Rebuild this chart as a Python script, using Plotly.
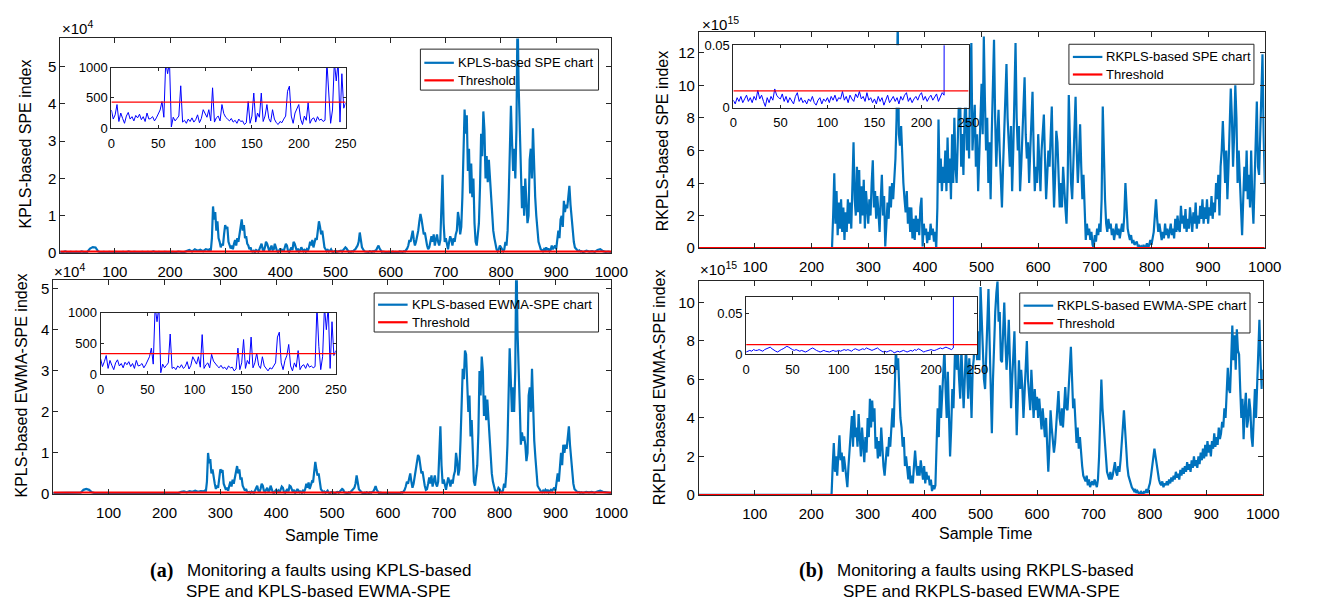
import plotly.graph_objects as go

# The page keeps its default 8px body margin, so the figure is placed 8px
# right/down; positions below are given in reference-picture pixels.
REF_W, REF_H = 1321, 610
PAGE_MARGIN = 8
W, H = REF_W, REF_H

# ---------------- data ----------------
kpls_time = list(range(0, 270, 5)) + list(range(270, 950, 2)) + list(range(950, 1001, 5))
rkpls_time = list(range(0, 236, 5)) + list(range(236, 1001, 2))

# KPLS-based SPE (x 10^4)
kpls_spe = [
    0.03, 0.02, 0.04, 0.02, 0.03, 0.02, 0.03, 0.02, 0.04, 0.02,
    0.03, 0.12, 0.16, 0.15, 0.04, 0.02, 0.03, 0.02, 0.03, 0.02,
    0.03, 0.02, 0.02, 0.03, 0.02, 0.04, 0.02, 0.03, 0.02, 0.02,
    0.03, 0.02, 0.03, 0.02, 0.04, 0.02, 0.03, 0.02, 0.03, 0.02,
    0.02, 0.03, 0.02, 0.04, 0.03, 0.02, 0.05, 0.08, 0.04, 0.10,
    0.06, 0.09, 0.05, 0.10,
    # 270 .. 948 every 2
    0.08, 0.1, 0.06, 0.4, 1.25, 0.9, 1.1, 0.6, 0.85, 0.4, 0.3, 0.15, 0.25, 0.2, 0.5, 0.75, 0.65, 0.7, 0.3, 0.2, 0.12, 0.2, 0.1, 0.25, 0.35,
    0.2, 0.4, 0.3, 0.5, 0.7, 0.9, 0.6, 0.75, 0.4, 0.45, 0.25, 0.2, 0.1, 0.15, 0.05, 0.04, 0.06, 0.03, 0.08, 0.05, 0.04, 0.1, 0.2, 0.25, 0.1,
    0.05, 0.15, 0.3, 0.25, 0.1, 0.05, 0.12, 0.2, 0.08, 0.1, 0.25, 0.15, 0.05, 0.03, 0.08, 0.12, 0.05, 0.1, 0.04, 0.15, 0.25, 0.2, 0.05, 0.03, 0.1,
    0.15, 0.08, 0.3, 0.25, 0.1, 0.05, 0.12, 0.04, 0.06, 0.15, 0.1, 0.05, 0.08, 0.04, 0.1, 0.06, 0.15, 0.3, 0.2, 0.35, 0.15, 0.25, 0.4, 0.35, 0.6,
    0.85, 0.7, 0.5, 0.6, 0.3, 0.15, 0.1, 0.05, 0.08, 0.04, 0.06, 0.1, 0.04, 0.03, 0.05, 0.06, 0.03, 0.04, 0.03, 0.05, 0.06, 0.04, 0.08, 0.1, 0.15,
    0.12, 0.05, 0.03, 0.04, 0.03, 0.05, 0.04, 0.08, 0.1, 0.15, 0.2, 0.3, 0.55, 0.35, 0.15, 0.1, 0.05, 0.04, 0.03, 0.04, 0.03, 0.05, 0.04, 0.03, 0.05,
    0.04, 0.06, 0.08, 0.15, 0.2, 0.12, 0.05, 0.03, 0.04, 0.03, 0.02, 0.03, 0.02, 0.03, 0.02, 0.03, 0.02, 0.04, 0.02, 0.03, 0.02, 0.03, 0.02, 0.04, 0.03,
    0.02, 0.03, 0.05, 0.04, 0.08, 0.12, 0.2, 0.35, 0.3, 0.5, 0.6, 0.35, 0.2, 0.3, 0.45, 0.6, 0.85, 1.05, 0.9, 0.6, 0.5, 0.55, 0.35, 0.2, 0.1,
    0.15, 0.3, 0.45, 0.3, 0.5, 0.2, 0.35, 0.5, 0.3, 0.2, 0.35, 1.2, 2.1, 0.8, 0.3, 0.4, 0.2, 0.1, 0.3, 0.45, 0.35, 0.2, 0.4, 0.3, 0.5,
    0.6, 1.1, 0.9, 0.5, 0.7, 1.5, 2.5, 3.85, 3.2, 3.7, 2.2, 2.8, 1.6, 2.4, 1.5, 2.0, 0.8, 0.3, 0.2, 0.5, 0.8, 1.8, 3.2, 2.6, 3.8,
    3.3, 2.0, 2.6, 1.9, 2.5, 2.0, 1.4, 1.0, 0.6, 0.4, 0.2, 0.1, 0.05, 0.1, 0.2, 0.15, 0.08, 0.05, 0.1, 0.3, 0.2, 0.6, 1.5, 2.5, 3.95,
    3.0, 2.2, 2.8, 2.0, 3.3, 6.5, 4.5, 3.5, 2.5, 1.2, 1.8, 1.0, 2.0, 1.3, 0.8, 1.0, 2.5, 2.8, 2.0, 3.35, 2.2, 1.5, 1.0, 0.5, 0.3,
    0.2, 0.1, 0.08, 0.05, 0.1, 0.05, 0.15, 0.08, 0.12, 0.05, 0.08, 0.2, 0.1, 0.15, 0.2, 0.1, 0.4, 0.6, 0.4, 0.9, 1.0, 0.7, 1.4, 1.1, 1.3,
    1.2, 1.5, 1.8, 1.3, 0.9, 0.6, 0.3, 0.15, 0.1, 0.08, 0.05, 0.07, 0.04, 0.05, 0.03,
    # 950 .. 1000 every 5
    0.03, 0.06, 0.04, 0.05, 0.03, 0.08, 0.10, 0.05, 0.03, 0.04, 0.02,
]

# KPLS-based EWMA-SPE (x 10^4)
kpls_ewma = [
    0.02, 0.02, 0.03, 0.02, 0.02, 0.03, 0.02, 0.02, 0.03, 0.02,
    0.03, 0.10, 0.12, 0.10, 0.04, 0.02, 0.02, 0.03, 0.02, 0.02,
    0.02, 0.03, 0.02, 0.02, 0.03, 0.02, 0.02, 0.03, 0.02, 0.02,
    0.02, 0.03, 0.02, 0.02, 0.03, 0.02, 0.02, 0.03, 0.02, 0.02,
    0.02, 0.02, 0.03, 0.02, 0.03, 0.02, 0.05, 0.06, 0.04, 0.07,
    0.05, 0.08, 0.05, 0.07,
    # 270 .. 948 every 2
    0.06, 0.08, 0.05, 0.3, 1.0, 0.75, 0.85, 0.5, 0.6, 0.35, 0.25, 0.12, 0.2, 0.15, 0.4, 0.6, 0.55, 0.58, 0.25, 0.15, 0.1, 0.15, 0.08, 0.2, 0.3,
    0.18, 0.35, 0.25, 0.4, 0.55, 0.68, 0.5, 0.6, 0.35, 0.4, 0.2, 0.15, 0.08, 0.12, 0.05, 0.04, 0.05, 0.03, 0.06, 0.04, 0.03, 0.08, 0.15, 0.2, 0.08,
    0.04, 0.12, 0.25, 0.2, 0.08, 0.05, 0.1, 0.15, 0.06, 0.08, 0.2, 0.12, 0.04, 0.03, 0.06, 0.1, 0.04, 0.08, 0.03, 0.12, 0.18, 0.15, 0.04, 0.03, 0.08,
    0.12, 0.06, 0.2, 0.18, 0.08, 0.04, 0.1, 0.03, 0.05, 0.12, 0.08, 0.04, 0.06, 0.03, 0.08, 0.05, 0.12, 0.25, 0.15, 0.28, 0.12, 0.2, 0.3, 0.28, 0.5,
    0.78, 0.6, 0.45, 0.5, 0.25, 0.12, 0.08, 0.04, 0.06, 0.03, 0.05, 0.08, 0.03, 0.02, 0.04, 0.05, 0.03, 0.03, 0.02, 0.04, 0.05, 0.03, 0.06, 0.08, 0.12,
    0.1, 0.04, 0.03, 0.03, 0.02, 0.04, 0.03, 0.06, 0.08, 0.12, 0.15, 0.25, 0.45, 0.3, 0.12, 0.08, 0.04, 0.03, 0.02, 0.03, 0.02, 0.04, 0.03, 0.02, 0.04,
    0.03, 0.05, 0.06, 0.12, 0.19, 0.1, 0.04, 0.02, 0.03, 0.02, 0.02, 0.02, 0.02, 0.02, 0.02, 0.02, 0.02, 0.03, 0.02, 0.02, 0.02, 0.02, 0.02, 0.03, 0.02,
    0.02, 0.02, 0.04, 0.03, 0.06, 0.1, 0.18, 0.3, 0.25, 0.42, 0.5, 0.3, 0.15, 0.25, 0.45, 0.65, 0.85, 0.95, 0.9, 0.6, 0.5, 0.55, 0.35, 0.2, 0.1,
    0.12, 0.25, 0.4, 0.25, 0.45, 0.18, 0.3, 0.45, 0.25, 0.18, 0.3, 0.9, 1.65, 0.7, 0.25, 0.35, 0.18, 0.1, 0.25, 0.4, 0.3, 0.18, 0.35, 0.25, 0.45,
    0.55, 1.0, 0.8, 0.45, 0.6, 1.3, 2.2, 3.05, 2.8, 3.5, 3.4, 2.5, 2.0, 2.4, 1.4, 1.8, 0.7, 0.3, 0.2, 0.4, 0.7, 1.5, 3.0, 2.4, 3.35,
    3.0, 1.9, 2.4, 1.8, 2.3, 1.8, 1.2, 0.8, 0.5, 0.3, 0.15, 0.08, 0.05, 0.08, 0.15, 0.12, 0.06, 0.04, 0.08, 0.25, 0.15, 0.5, 1.2, 2.3, 3.55,
    2.8, 2.0, 2.6, 2.0, 3.0, 6.0, 4.0, 2.7, 2.2, 1.2, 1.5, 1.3, 1.4, 1.2, 0.8, 1.0, 2.4, 2.6, 2.0, 3.05, 2.0, 1.3, 0.9, 0.4, 0.2,
    0.15, 0.08, 0.06, 0.04, 0.08, 0.05, 0.1, 0.06, 0.1, 0.04, 0.06, 0.1, 0.08, 0.12, 0.15, 0.08, 0.35, 0.5, 0.3, 0.8, 1.0, 0.7, 1.2, 1.0, 1.2,
    1.1, 1.35, 1.65, 1.2, 0.8, 0.5, 0.25, 0.12, 0.08, 0.06, 0.04, 0.05, 0.03, 0.04, 0.03,
    # 950 .. 1000 every 5
    0.03, 0.05, 0.04, 0.05, 0.03, 0.06, 0.08, 0.05, 0.04, 0.03, 0.02,
]

# RKPLS-based SPE (x 10^15)
rkpls_spe = [
    0, 0, 0, 0, 0, 0, 0, 0, 0, 0, 0, 0, 0, 0, 0, 0, 0, 0, 0, 0, 0, 0, 0, 0,
    0, 0, 0, 0, 0, 0, 0, 0, 0, 0, 0, 0, 0, 0, 0, 0, 0, 0, 0, 0, 0, 0, 0, 0,
    # 236 .. 1000 every 2
    0, 2.0, 4.6, 1.5, 3.5, 0.8, 2.8, 1.2, 3.0, 1.0, 2.5, 0.5, 2.2, 1.0, 3.0, 1.5, 2.8, 1.2, 4.5, 6.5, 3.0, 2.0, 5.0, 2.2, 4.8,
    1.5, 3.8, 2.0, 4.2, 1.2, 3.5, 2.5, 1.5, 3.0, 2.0, 4.0, 5.4, 2.5, 3.5, 1.8, 3.2, 2.2, 1.0, 3.0, 4.5, 2.0, 3.2, 0.1, 1.5, 2.8,
    1.8, 3.8, 2.5, 4.0, 3.0, 4.0, 5.5, 8.0, 14.0, 7.0, 6.3, 7.5, 5.0, 4.0, 3.0, 2.2, 3.5, 1.5, 2.5, 1.0, 2.5, 0.6, 1.8, 0.5, 2.0,
    1.0, 1.8, 0.8, 2.5, 3.1, 0.1, 1.5, 0.8, 1.2, 0.3, 1.0, 0.5, 1.5, 0.8, 1.2, 0.4, 1.0, 0.0, 2.5, 7.9, 4.0, 5.5, 3.5, 5.0, 4.0,
    6.0, 3.5, 6.8, 4.0, 5.5, 3.0, 7.0, 4.0, 8.0, 5.0, 4.0, 7.0, 9.0, 10.0, 5.0, 7.0, 4.5, 8.0, 9.6, 6.0, 8.0, 5.5, 11.0, 12.6, 6.0,
    7.5, 8.8, 5.0, 7.0, 3.5, 6.0, 9.0, 10.1, 7.0, 13.0, 9.0, 6.0, 8.0, 4.0, 6.5, 3.0, 7.0, 10.0, 12.8, 8.0, 5.0, 7.0, 8.5, 6.0, 4.0,
    2.5, 5.0, 7.0, 9.0, 11.3, 8.0, 6.0, 5.0, 7.5, 3.5, 6.0, 9.0, 12.6, 8.0, 6.0, 7.5, 3.5, 5.0, 7.0, 9.0, 10.5, 7.0, 5.5, 6.5, 4.0,
    6.0, 8.0, 9.6, 6.0, 3.5, 5.0, 4.0, 7.0, 5.0, 3.5, 6.0, 7.0, 8.2, 5.5, 3.0, 4.5, 6.0, 5.0, 7.0, 8.7, 5.0, 2.5, 4.5, 7.2, 6.5,
    4.0, 2.5, 4.0, 2.5, 5.0, 3.5, 2.5, 1.5, 4.0, 9.4, 6.0, 4.0, 3.0, 5.6, 7.0, 9.3, 6.0, 4.0, 5.5, 7.6, 5.0, 3.0, 4.5, 2.5, 0.5,
    1.5, 0.8, 1.2, 0.5, 1.0, 0.2, 0.0, 0.8, 0.4, 1.2, 0.8, 1.5, 1.0, 3.0, 8.7, 5.0, 3.0, 1.5, 1.0, 1.8, 1.2, 1.5, 0.8, 1.2, 0.5,
    1.0, 1.5, 0.8, 1.2, 0.6, 1.0, 1.5, 1.0, 2.0, 4.0, 2.0, 1.2, 0.8, 0.5, 0.8, 0.3, 0.5, 0.2, 0.3, 0.4, 0.1, 0.2, 0.0, 0.1, 0.0,
    0.2, 0.0, 0.1, 0.3, 0.0, 0.2, 0.5, 0.2, 0.6, 1.0, 2.0, 3.0, 1.8, 1.0, 1.5, 0.8, 0.5, 1.0, 0.6, 1.5, 0.8, 1.2, 0.6, 1.0, 1.5,
    0.8, 1.2, 0.6, 1.8, 1.0, 2.0, 1.2, 1.0, 2.6, 1.5, 2.0, 1.2, 2.4, 1.0, 1.8, 1.2, 2.5, 1.5, 1.0, 2.2, 1.5, 2.8, 1.2, 2.0, 1.5,
    2.6, 1.8, 3.0, 1.5, 2.5, 1.8, 3.0, 1.5, 2.5, 2.0, 3.2, 1.8, 2.8, 2.2, 4.0, 3.0, 4.5, 2.0, 5.0, 6.0, 7.8, 5.0, 4.0, 6.0, 3.0,
    5.0, 7.0, 9.8, 8.0, 5.0, 7.0, 10.0, 8.0, 4.0, 6.0, 4.0, 2.0, 0.8, 3.0, 5.0, 3.5, 6.0, 3.0, 4.5, 2.5, 6.0, 3.0, 1.5, 4.0, 6.5,
    9.0, 5.0, 4.5, 7.0, 9.0, 11.9, 7.0, 4.0,
]

# RKPLS-based EWMA-SPE (x 10^15)
rkpls_ewma = [
    0, 0, 0, 0, 0, 0, 0, 0, 0, 0, 0, 0, 0, 0, 0, 0, 0, 0, 0, 0, 0, 0, 0, 0,
    0, 0, 0, 0, 0, 0, 0, 0, 0, 0, 0, 0, 0, 0, 0, 0, 0, 0, 0, 0, 0, 0, 0, 0,
    # 236 .. 1000 every 2
    0, 1.5, 2.7, 1.2, 2.0, 1.0, 2.5, 3.1, 1.8, 2.2, 1.2, 2.0, 1.5, 1.0, 0.4, 1.5, 2.5, 3.5, 4.1, 2.5, 4.4, 3.0, 3.5, 2.5, 4.2,
    3.0, 2.0, 3.5, 2.5, 1.7, 3.0, 2.2, 4.0, 3.0, 5.0, 3.5, 4.9, 3.8, 4.5, 2.4, 3.0, 1.9, 2.8, 2.0, 3.5, 2.2, 1.5, 1.0, 1.8, 2.5,
    2.0, 3.0, 2.5, 3.5, 4.5, 3.5, 5.5, 7.6, 6.5, 7.1, 5.5, 4.0, 3.5, 2.5, 3.0, 1.5, 2.0, 1.2, 0.8, 1.5, 0.6, 1.0, 0.6, 1.5, 2.3,
    1.5, 1.0, 1.5, 1.0, 1.8, 1.2, 0.8, 1.5, 0.6, 1.2, 0.8, 1.0, 0.5, 0.8, 0.2, 0.5, 0.3, 0.5, 2.5, 4.5, 3.0, 5.7, 4.0, 5.0, 6.0,
    7.6, 5.5, 4.0, 6.4, 4.0, 2.0, 3.5, 5.5, 4.5, 7.0, 8.9, 6.5, 7.3, 6.0, 5.0, 7.6, 6.0, 4.5, 6.0, 7.6, 6.6, 5.0, 7.1, 6.0, 4.0,
    6.5, 7.1, 9.5, 8.0, 7.0, 8.5, 7.0, 10.8, 9.0, 8.0, 6.0, 5.5, 7.5, 9.0, 10.7, 8.0, 5.0, 3.2, 6.0, 8.4, 9.5, 10.5, 11.1, 9.0, 9.5,
    7.0, 6.9, 8.5, 10.0, 8.0, 6.5, 7.5, 9.1, 7.0, 4.5, 6.0, 7.5, 8.5, 6.0, 3.1, 5.0, 7.0, 5.5, 6.5, 5.6, 4.0, 5.3, 6.5, 8.0, 6.0,
    5.0, 4.4, 6.5, 5.0, 4.0, 5.5, 4.4, 5.1, 4.0, 5.0, 4.1, 3.4, 4.5, 3.5, 3.0, 4.0, 2.5, 1.2, 2.5, 4.4, 3.5, 3.0, 2.2, 2.7, 3.5,
    4.5, 5.4, 4.0, 3.6, 4.5, 3.5, 4.5, 5.6, 4.5, 4.4, 5.5, 6.5, 7.7, 6.1, 4.5, 5.0, 3.5, 2.7, 3.5, 2.4, 3.0, 2.0, 1.5, 1.0, 0.8,
    0.7, 1.0, 0.5, 0.8, 0.4, 0.6, 0.7, 0.5, 0.8, 0.6, 0.4, 0.8, 2.0, 4.0, 6.0, 4.5, 3.6, 2.5, 1.7, 1.2, 1.0, 0.8, 1.2, 0.8, 1.0,
    1.5, 1.7, 1.2, 1.0, 1.5, 1.2, 1.8, 2.5, 3.5, 4.4, 3.5, 2.1, 1.5, 1.0, 0.8, 0.5, 0.4, 0.3, 0.2, 0.3, 0.1, 0.2, 0.1, 0.0, 0.2,
    0.1, 0.0, 0.2, 0.1, 0.3, 0.1, 0.4, 0.6, 1.0, 1.5, 2.1, 2.4, 2.0, 1.5, 1.2, 0.8, 0.6, 0.5, 0.7, 0.4, 0.6, 0.5, 0.7, 0.5, 0.8,
    0.6, 0.9, 0.7, 1.0, 0.8, 1.2, 0.9, 1.1, 0.8, 1.3, 1.0, 1.4, 1.1, 1.5, 1.2, 1.7, 1.3, 1.6, 1.2, 1.8, 1.4, 2.0, 1.5, 1.8, 1.4,
    2.0, 1.6, 2.2, 1.8, 2.4, 1.9, 2.6, 2.0, 2.8, 2.2, 2.6, 2.0, 2.8, 2.4, 3.2, 2.5, 3.0, 2.6, 3.5, 2.9, 3.2, 3.8, 3.5, 4.5, 4.0,
    5.0, 6.6, 5.5, 5.3, 7.0, 8.8, 7.0, 8.3, 6.5, 8.6, 7.5, 7.3, 5.5, 4.0, 5.0, 2.9, 4.5, 5.3, 3.5, 3.9, 5.0, 4.4, 3.0, 2.5, 4.0,
    5.5, 4.0, 6.0, 7.5, 9.1, 7.0, 5.5, 6.5,
]

# zoomed insets (first 250 samples)
inset_time_kpls = list(range(0, 251, 2))
kpls_spe_inset = [
    300, 150, 220, 390, 110, 250, 160, 80, 200, 260, 150, 190, 120, 210, 170, 230, 140, 190, 110, 250, 150, 160, 190, 120, 170,
    250, 300, 440, 180, 1100, 900, 1100, 20, 180, 120, 160, 200, 700, 100, 130, 80, 150, 110, 170, 100, 140, 220, 90, 160, 305,
    250, 180, 305, 120, 667, 100, 170, 200, 120, 390, 240, 180, 150, 120, 160, 100, 130, 80, 150, 110, 120, 60, 90, 440, 80,
    200, 580, 100, 250, 180, 580, 110, 200, 390, 160, 100, 305, 150, 90, 60, 110, 90, 150, 200, 610, 695, 200, 80, 250, 330,
    390, 150, 60, 200, 130, 420, 80, 150, 170, 100, 190, 130, 150, 110, 130, 1100, 500, 80, 300, 1100, 780, 1100, 100, 900, 330,
    420,
]
kpls_ewma_inset = [
    250, 120, 200, 300, 90, 220, 140, 70, 180, 230, 130, 170, 100, 190, 150, 200, 120, 170, 90, 220, 130, 140, 170, 100, 150,
    220, 280, 420, 160, 1100, 850, 1100, 20, 160, 100, 140, 180, 650, 90, 110, 70, 130, 100, 150, 90, 120, 200, 80, 140, 280,
    220, 160, 280, 110, 640, 90, 150, 180, 100, 320, 210, 160, 130, 100, 140, 90, 110, 70, 130, 100, 110, 50, 80, 420, 70,
    180, 560, 90, 220, 160, 600, 100, 180, 340, 140, 90, 280, 130, 80, 50, 100, 80, 130, 180, 600, 680, 180, 70, 220, 300,
    480, 130, 50, 180, 110, 380, 70, 130, 150, 90, 170, 110, 130, 100, 120, 1100, 450, 70, 280, 1100, 720, 1100, 90, 850, 300,
    380,
]
inset_time_rkpls = list(range(0, 225, 2)) + [225]
# values in units of 10^-3
rkpls_spe_inset_milli = [
    6, 3, 8, 5, 9, 4, 7, 10, 5, 8, 4, 9, 6, 14, 7, 10, 5, 1, 8, 4, 9, 6, 15, 10, 8,
    7, 11, 5, 9, 4, 8, 6, 3, 9, 12, 5, 8, 4, 6, 3, 7, 5, 9, 4, 2, 6, 8, 3, 7, 5,
    8, 4, 9, 6, 10, 5, 8, 7, 13, 6, 9, 4, 10, 7, 5, 11, 8, 13, 7, 9, 5, 12, 6, 8, 4,
    7, 3, 9, 5, 8, 2, 6, 10, 4, 7, 9, 5, 8, 3, 9, 6, 10, 12, 5, 8, 4, 7, 9, 6, 10,
    12, 6, 9, 5, 8, 10, 6, 9, 11, 5, 8, 12, 10,
    1000,
]
rkpls_ewma_inset_milli = [
    3, 4, 5, 4, 6, 5, 5, 6, 5, 4, 6, 7, 8, 9, 7, 5, 4, 3, 5, 6, 7, 8, 10, 9, 7,
    6, 5, 6, 5, 4, 5, 4, 3, 4, 6, 7, 8, 6, 5, 4, 3, 4, 5, 4, 3, 3, 4, 5, 4, 4,
    5, 4, 5, 6, 5, 6, 5, 4, 6, 7, 6, 5, 6, 7, 6, 8, 7, 6, 5, 6, 7, 8, 6, 4, 3,
    4, 3, 4, 5, 4, 2, 3, 4, 3, 4, 5, 4, 3, 4, 5, 4, 6, 5, 7, 6, 4, 3, 4, 5, 5,
    6, 5, 5, 6, 7, 8, 7, 8, 9, 8, 7, 6, 8,
    1000,
]

kpls_spe_threshold = 430        # raw units
kpls_ewma_threshold = 330
rkpls_spe_threshold = 0.0135
rkpls_ewma_threshold = 0.012

x_ticks = list(range(100, 1001, 100))
inset_x_ticks = [0, 50, 100, 150, 200, 250]

# ---------------- styling ----------------
FONT = "Liberation Sans, Arial, Helvetica, sans-serif"
SERIF = "Liberation Serif, Times New Roman, serif"
AX_COLOR = "#262626"
BLUE = "#0072BD"
RED = "#FF0000"


def px(x):   # reference x pixel -> paper fraction
    return (x - PAGE_MARGIN) / W


def py(y):   # reference y pixel -> paper fraction
    return 1 - (y - PAGE_MARGIN) / H


def dx(a, b):
    return [px(a), px(b)]


def dy(top, bottom):
    return [py(bottom), py(top)]


def axis_style(size, ticklen, standoff=None):
    d = dict(showline=True, linecolor=AX_COLOR, linewidth=1, mirror="ticks",
             ticks="inside", ticklen=ticklen, tickwidth=1, tickcolor=AX_COLOR,
             showgrid=False, zeroline=False,
             tickfont=dict(family=FONT, size=size, color="#000000"))
    if standoff is not None:
        d["ticklabelstandoff"] = standoff
    return d


fig = go.Figure()
shapes = []
annotations = []


def ann(text, x, y, size, family=FONT, xanchor="center", angle=0):
    return dict(text=text, x=px(x), y=py(y), xref="paper", yref="paper",
                xanchor=xanchor, yanchor="middle", showarrow=False, textangle=angle,
                font=dict(family=family, size=size, color="#000000"))


main_panels = [
    # idx, time, series, threshold (display units), name, box(l, r, t, b), ymax, ystep, legend(l, r, t, b, y1, y2)
    (1, kpls_time, kpls_spe, kpls_spe_threshold / 1e4, "KPLS-based SPE chart",
     (57, 617, 32, 252), 5.76, 1, (423, 604, 43, 85, 57, 75)),
    (2, kpls_time, kpls_ewma, kpls_ewma_threshold / 1e4, "KPLS-based EWMA-SPE chart",
     (50, 617, 280, 499), 5.21, 1, (376, 604, 293, 333, 305, 323)),
    (3, rkpls_time, rkpls_spe, rkpls_spe_threshold / 1e15, "RKPLS-based SPE chart",
     (706, 1281, 25, 247), 13.3, 2, (1082, 1270, 38, 79, 51, 69)),
    (4, rkpls_time, rkpls_ewma, rkpls_ewma_threshold / 1e15, "RKPLS-based EWMA-SPE chart",
     (706, 1279, 281, 500), 11.1, 2, (1032, 1266, 293, 334, 306, 324)),
]

layout_axes = {}
for idx, tm, series, thr, name, box, ymax, ystep, leg in main_panels:
    xa = "x" if idx == 1 else f"x{idx}"
    ya = "y" if idx == 1 else f"y{idx}"
    fig.add_trace(go.Scatter(x=tm, y=series, mode="lines", name=name,
                             line=dict(color=BLUE, width=2.2), xaxis=xa, yaxis=ya,
                             showlegend=False))
    fig.add_trace(go.Scatter(x=[1, 1000], y=[thr, thr], mode="lines",
                             name="Threshold", line=dict(color=RED, width=2),
                             xaxis=xa, yaxis=ya, showlegend=False))
    l, r, t, b = box
    xk = "xaxis" if idx == 1 else f"xaxis{idx}"
    yk = "yaxis" if idx == 1 else f"yaxis{idx}"
    xs = axis_style(15, 5, standoff=5)
    xs.update(domain=dx(l, r), range=[1, 1000], tickvals=x_ticks, anchor=ya)
    ys = axis_style(15, 5)
    ys.update(domain=dy(t, b), range=[0, ymax],
              tickvals=[v * ystep for v in range(int(ymax // ystep) + 1)], anchor=xa)
    layout_axes[xk] = xs
    layout_axes[yk] = ys

    # legend box drawn by hand (matlab style)
    ll, lr, lt, lb, e1, e2 = leg
    shapes.append(dict(type="rect", xref="paper", yref="paper", layer="below",
                       x0=px(ll), x1=px(lr), y0=py(lb), y1=py(lt),
                       fillcolor="white", line=dict(color=AX_COLOR, width=1)))
    for ey, col in ((e1, BLUE), (e2, RED)):
        shapes.append(dict(type="line", xref="paper", yref="paper", layer="below",
                           x0=px(ll + 4), x1=px(ll + 34), y0=py(ey), y1=py(ey),
                           line=dict(color=col, width=2.2)))
    annotations.append(ann(name, ll + 36, e1, 13, xanchor="left"))
    annotations.append(ann("Threshold", ll + 36, e2, 13, xanchor="left"))

inset_panels = [
    (5, inset_time_kpls, kpls_spe_inset, kpls_spe_threshold, (109, 347, 62, 124), [0, 1000], [0, 500, 1000], ["0", "500", "1000"]),
    (6, inset_time_kpls, kpls_ewma_inset, kpls_ewma_threshold, (98, 337, 313, 376), [0, 1000], [0, 500, 1000], ["0", "500", "1000"]),
    (7, inset_time_rkpls, [v / 1000 for v in rkpls_spe_inset_milli], rkpls_spe_threshold, (741, 980, 39, 103), [0, 0.05], [0, 0.05], ["0", "0.05"]),
    (8, inset_time_rkpls, [v / 1000 for v in rkpls_ewma_inset_milli], rkpls_ewma_threshold, (754, 989, 297, 356), [0, 0.071], [0, 0.05], ["0", "0.05"]),
]

for idx, xs_data, ys_data, thr, box, yr, yt, ytt in inset_panels:
    xa, ya = f"x{idx}", f"y{idx}"
    fig.add_trace(go.Scatter(x=xs_data, y=ys_data, mode="lines", line=dict(color="#0000FF", width=1),
                             xaxis=xa, yaxis=ya, showlegend=False, hoverinfo="skip"))
    fig.add_trace(go.Scatter(x=[0, 250], y=[thr, thr], mode="lines", line=dict(color=RED, width=1.2),
                             xaxis=xa, yaxis=ya, showlegend=False, hoverinfo="skip"))
    l, r, t, b = box
    xs = axis_style(13, 3, standoff=3)
    xs.update(domain=dx(l, r), range=[0, 250], tickvals=inset_x_ticks, anchor=ya)
    ys = axis_style(13, 3)
    ys.update(domain=dy(t, b), range=yr, tickvals=yt, ticktext=ytt, anchor=xa)
    layout_axes[f"xaxis{idx}"] = xs
    layout_axes[f"yaxis{idx}"] = ys

annotations += [
    ann("KPLS-based SPE index", 22, 140, 16, angle=-90),
    ann("KPLS-based EWMA-SPE index", 18, 388, 16, angle=-90),
    ann("RKPLS-based SPE index", 669, 137, 16, angle=-90),
    ann("RKPLS-based EWMA-SPE index", 666, 390, 16, angle=-90),
    ann("×10<sup>4</sup>", 57, 21, 15, xanchor="left"),
    ann("×10<sup>4</sup>", 49, 270, 15, xanchor="left"),
    ann("×10<sup>15</sup>", 707, 17, 15, xanchor="left"),
    ann("×10<sup>15</sup>", 705, 268, 15, xanchor="left"),
    ann("Sample Time", 333, 542, 16),
    ann("Sample Time", 997, 540, 16),
    ann("<b>(a)</b>", 146, 577, 20, family=SERIF, xanchor="left"),
    ann("Monitoring a faults using KPLS-based", 184, 577, 17, xanchor="left"),
    ann("SPE and KPLS-based EWMA-SPE", 183, 599, 17, xanchor="left"),
    ann("<b>(b)</b>", 806, 577, 20, family=SERIF, xanchor="left"),
    ann("Monitoring a faults using RKPLS-based", 844, 577, 17, xanchor="left"),
    ann("SPE and RKPLS-based EWMA-SPE", 850, 599, 17, xanchor="left"),
]

fig.update_layout(
    width=W, height=H, autosize=False,
    margin=dict(l=0, r=0, t=0, b=0),
    paper_bgcolor="white", plot_bgcolor="white",
    font=dict(family=FONT, color="#000000"),
    showlegend=False,
    annotations=annotations,
    shapes=shapes,
    **layout_axes,
)

fig.write_html("out.html", config={"displayModeBar": False})
